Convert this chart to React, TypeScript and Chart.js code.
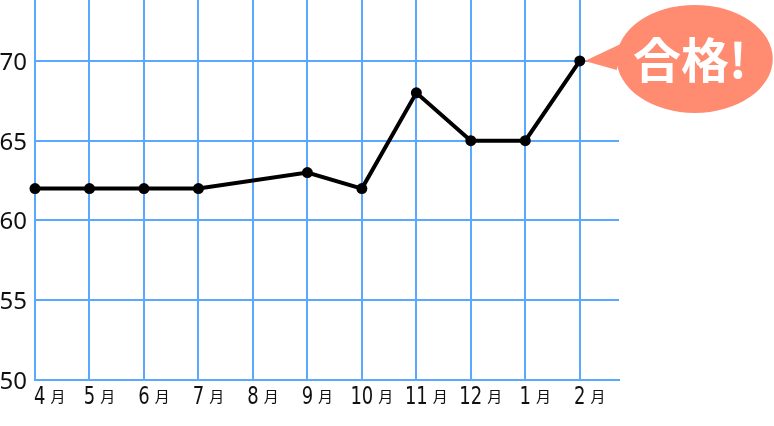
import React, { useEffect, useRef } from 'react';
import { Chart, registerables } from 'chart.js';

Chart.register(...registerables);

// ---- data ----
const months: string[] = ['4', '5', '6', '7', '8', '9', '10', '11', '12', '1', '2'];
const monthSuffix = '月';
const scores: (number | null)[] = [62, 62, 62, 62, null, 63, 62, 68, 65, 65, 70];
const yMin = 50;
const yMax = 73.82;
const yStep = 5;
const xMax = 10.72;
const bubbleText = '合格!';

const GRID = '#5aa9ff';
const BUBBLE = '#ff8b71';

const labelPlugin = {
  id: 'customLabels',
  afterDraw(chart: any) {
    const { ctx, chartArea, scales } = chart;
    const x = scales.x;
    const y = scales.y;
    ctx.save();
    ctx.fillStyle = '#111';
    ctx.textAlign = 'left';
    ctx.textBaseline = 'alphabetic';
    const sx = 0.72;
    const baseY = chartArea.bottom + 24;
    months.forEach((m, i) => {
      const px = x.getPixelForValue(i);
      ctx.font = '25px "DejaVu Sans"';
      const w = ctx.measureText(m).width * sx;
      let left = px - w / 2;
      if (left < chartArea.left - 1) left = chartArea.left - 1;
      ctx.save();
      ctx.translate(left, baseY);
      ctx.scale(sx, 1);
      ctx.fillText(m, 0, 0);
      ctx.restore();
      ctx.font = '15px "Noto Sans CJK JP"';
      ctx.fillText(monthSuffix, left + w + 5, baseY - 2);
    });

    // bubble at the last point
    let last = scores.length - 1;
    while (last >= 0 && scores[last] == null) last--;
    const tx = x.getPixelForValue(last) + 5;
    const ty = y.getPixelForValue(scores[last] as number);
    const cx = tx + 110;
    const cy = ty - 2;
    ctx.fillStyle = BUBBLE;
    ctx.beginPath();
    ctx.moveTo(tx, ty);
    ctx.lineTo(tx + 38, ty - 18);
    ctx.lineTo(tx + 32, ty + 9);
    ctx.closePath();
    ctx.fill();
    ctx.beginPath();
    ctx.ellipse(cx, cy, 78, 54, 0, 0, Math.PI * 2);
    ctx.fill();
    ctx.fillStyle = '#ffffff';
    ctx.font = 'bold 48px "Noto Sans CJK JP"';
    ctx.textAlign = 'center';
    ctx.textBaseline = 'middle';
    ctx.fillText(bubbleText, cx - 5, cy + 1);
    ctx.restore();
  },
};

export default function App() {
  const ref = useRef<HTMLCanvasElement>(null);
  useEffect(() => {
    document.body.style.margin = '0';
    const canvas = ref.current!;
    const chart = new Chart(canvas, {
      type: 'line',
      data: {
        datasets: [
          {
            data: scores.map((v, i) => ({ x: i, y: v })) as any,
            borderColor: '#000',
            backgroundColor: '#000',
            borderWidth: 4,
            pointRadius: 5.5,
            pointHoverRadius: 5.5,
            pointBackgroundColor: '#000',
            pointBorderWidth: 0,
            spanGaps: true,
            tension: 0,
            clip: false as any,
          },
        ],
      },
      options: {
        animation: false,
        responsive: false,
        devicePixelRatio: 1,
        layout: { autoPadding: false, padding: { left: 0, top: 0, right: 155, bottom: 0 } },
        plugins: { legend: { display: false }, tooltip: { enabled: false } },
        events: [],
        scales: {
          x: {
            type: 'linear',
            min: 0,
            max: xMax,
            ticks: { stepSize: 1, includeBounds: false, display: false },
            grid: { color: GRID, lineWidth: 2, drawTicks: false },
            border: { color: GRID, width: 2 },
            afterFit: (s: any) => {
              s.height = 46;
              s.paddingLeft = 0;
              s.paddingRight = 0;
            },
          },
          y: {
            type: 'linear',
            min: yMin,
            max: yMax,
            ticks: {
              stepSize: yStep,
              includeBounds: false,
              padding: 8,
              labelOffset: 2,
              color: '#111',
              font: { family: '"Noto Sans"', size: 24 },
              callback: (v: any) => String(v),
            },
            grid: { color: GRID, lineWidth: 2, drawTicks: false },
            border: { color: GRID, width: 2 },
            afterFit: (s: any) => {
              s.width = 35;
              s.paddingTop = 0;
              s.paddingBottom = 0;
            },
          },
        },
      },
      plugins: [labelPlugin],
    });
    return () => chart.destroy();
  }, []);
  return (
    <div style={{ width: 774, height: 426 }}>
      <canvas ref={ref} width={774} height={426} />
    </div>
  );
}
